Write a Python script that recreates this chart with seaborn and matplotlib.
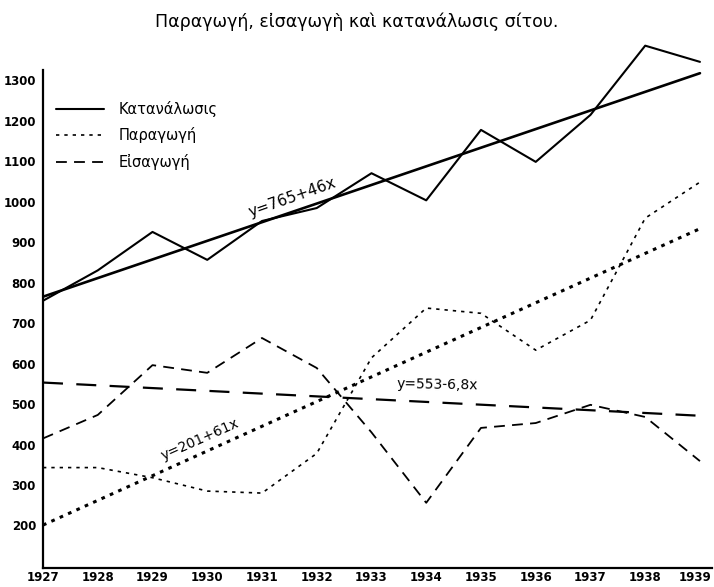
import matplotlib
matplotlib.use("Agg")
import matplotlib.pyplot as plt
from matplotlib.transforms import ScaledTranslation
import seaborn as sns
import pandas as pd

years = [1927, 1928, 1929, 1930, 1931, 1932, 1933, 1934, 1935, 1936, 1937, 1938, 1939]
consumption = [755, 830, 925, 856, 952, 984, 1070, 1003, 1177, 1098, 1214, 1385, 1345]
production = [343, 343, 318, 285, 280, 378, 614, 737, 724, 633, 707, 959, 1048]
imports = [415, 473, 596, 577, 663, 589, 430, 256, 441, 453, 498, 468, 359]

trend_years = [1927, 1939]
trend_consumption = [765, 1317]
trend_production = [201, 933]
trend_imports = [553, 471]

yticks = [200, 300, 400, 500, 600, 700, 800, 900, 1000, 1100, 1200, 1300]
ytick_labels = ["200", "300", "400", "500", "600", "700", "800", "900", "1000", "1100", "1200", "1300"]

title = "Παραγωγή, εἰσαγωγὴ καὶ κατανάλωσις σίτου."
labels = ["Κατανάλωσις", "Παραγωγή", "Εἰσαγωγή"]

sns.set_style("white")
plt.rcParams["font.family"] = ["DejaVu Sans"]
plt.rcParams["text.color"] = "black"
plt.rcParams["xtick.color"] = "black"
plt.rcParams["ytick.color"] = "black"

fig = plt.figure(figsize=(7.14, 5.87), dpi=100)
ax = fig.add_axes([43 / 714, (587 - 568) / 587, 669 / 714, 528 / 587])

df = pd.DataFrame({"year": years, "cons": consumption, "prod": production, "imp": imports})
tdf = pd.DataFrame({"year": trend_years, "cons": trend_consumption,
                    "prod": trend_production, "imp": trend_imports})

sns.lineplot(data=df, x="year", y="cons", ax=ax, color="black", lw=1.5,
             linestyle="-", label=labels[0])
sns.lineplot(data=df, x="year", y="prod", ax=ax, color="black", lw=1.2,
             linestyle=(0, (2, 3)), label=labels[1])
sns.lineplot(data=df, x="year", y="imp", ax=ax, color="black", lw=1.3,
             linestyle=(0, (6, 4)), label=labels[2])

sns.lineplot(data=tdf, x="year", y="cons", ax=ax, color="black", lw=1.9, linestyle="-")
sns.lineplot(data=tdf, x="year", y="prod", ax=ax, color="black", lw=2.2,
             linestyle=(0, (1.2, 1.8)))
sns.lineplot(data=tdf, x="year", y="imp", ax=ax, color="black", lw=1.6,
             linestyle=(0, (9, 6)))

ax.set_xlim(1927, 1939.22)
ax.set_ylim(95, 1399)
ax.set_xticks(years)
ax.set_xticklabels([str(y) for y in years], fontsize=8.5, fontweight="bold")
ax.set_yticks(yticks)
ax.set_yticklabels(ytick_labels, fontsize=8.5, fontweight="bold")
ax.tick_params(axis="x", direction="in", length=4, width=1.2, pad=2)
ax.tick_params(axis="y", direction="out", length=3, width=1.2, pad=2)
ax.set_xlabel("")
ax.set_ylabel("")

last = ax.get_xticklabels()[-1]
last.set_horizontalalignment("right")
last.set_transform(last.get_transform() + ScaledTranslation(0.115, 0, fig.dpi_scale_trans))

for s in ["top", "right"]:
    ax.spines[s].set_visible(False)
for s in ["left", "bottom"]:
    ax.spines[s].set_color("black")
    ax.spines[s].set_linewidth(1.6)
ax.spines["left"].set_bounds(95, 1325)

ax.text(1931.55, 1009, "y=765+46x", rotation=19.5, ha="center", va="center",
        fontsize=11, rotation_mode="anchor", color="black")
ax.text(1929.87, 413, "y=201+61x", rotation=24, ha="center", va="center",
        fontsize=10, rotation_mode="anchor", color="black")
ax.text(1934.2, 548, "y=553-6,8x", rotation=-1, ha="center", va="center",
        fontsize=10, rotation_mode="anchor", color="black")

leg = ax.legend(loc="upper left", bbox_to_anchor=(0.0, 0.91), frameon=False,
                handlelength=3.3, handletextpad=1.0, fontsize=10.5, labelspacing=0.72,
                labelcolor="black")

fig.text(0.5, 1 - 22 / 587, title, ha="center", va="center", fontsize=12.5, color="black")

fig.savefig("out.png", dpi=100, facecolor="white")
